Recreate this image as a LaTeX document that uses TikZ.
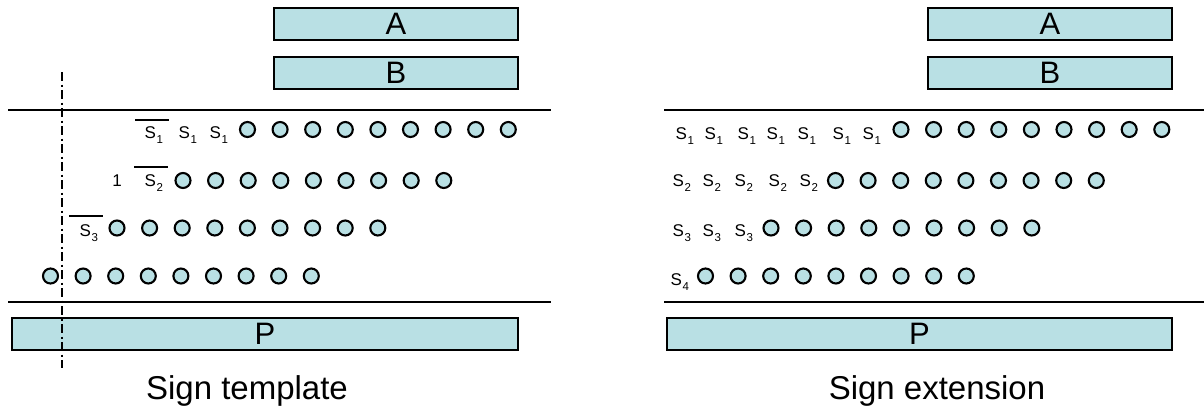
\documentclass[tikz,border=0pt]{standalone}
\usepackage{fontspec}
\setmainfont{Liberation Sans}
\definecolor{cellfill}{RGB}{185,224,228}
\newcommand\Sbit[1]{S\kern0.6pt\raisebox{-5pt}{\fontsize{11.5}{11.5}\selectfont #1}}
\begin{document}
\begin{tikzpicture}[x=1pt,y=-1pt,
  rule/.style={line width=2.2pt},
  barline/.style={line width=2.2pt},
  reg/.style={draw, line width=2.2pt, fill=cellfill, inner sep=0pt, minimum height=32pt,
              font=\fontsize{31}{31}\selectfont},
  bit/.style={circle, draw, line width=2.1pt, fill=cellfill, minimum size=15pt, inner sep=0pt},
  lab/.style={inner sep=0pt, anchor=base west, font=\fontsize{17}{17}\selectfont},
  caption/.style={inner sep=0pt, anchor=base, font=\fontsize{33}{33}\selectfont}]
\useasboundingbox (0,0) rectangle (1204,408);

% ---------------- left panel: sign template ----------------
\node[reg, minimum width=244pt] (LA) at (396,24) {A};
\node[reg, minimum width=244pt] (LB) at (396,73) {B};
\node[reg, minimum width=506pt] (LP) at (265,334) {P};

\coordinate (LT1) at (8,110);  \coordinate (LT2) at (551,110);
\coordinate (LU1) at (8,302);  \coordinate (LU2) at (551,302);
\draw[rule] (LT1) -- (LT2);
\draw[rule] (LU1) -- (LU2);

\coordinate (DTop) at (62,72); \coordinate (DBot) at (62,368);
\draw[line width=2pt, dash pattern=on 9pt off 3.5pt on 2pt off 3.5pt] (DTop) -- (DBot);

\foreach \i in {0,...,8} {
  \node[bit] (L1-\i) at (247.5+32.6*\i,129.5) {};
  \node[bit] (L2-\i) at (183+32.6*\i,180.5) {};
  \node[bit] (L3-\i) at (117+32.6*\i,228) {};
  \node[bit] (L4-\i) at (50.5+32.6*\i,276) {};
}

\node[lab] (l1a) at (144.5,138) {\Sbit{1}};
\node[lab] (l1b) at (178.5,138) {\Sbit{1}};
\node[lab] (l1c) at (209.5,138) {\Sbit{1}};
\node[inner sep=0pt, anchor=base, font=\fontsize{17}{17}\selectfont] (l2one) at (117,186) {1};
\node[lab] (l2a) at (144.5,186) {\Sbit{2}};
\node[lab] (l3a) at (79.5,236) {\Sbit{3}};

\coordinate (b1s) at (135,120); \coordinate (b1e) at (169,120);
\coordinate (b2s) at (134,167); \coordinate (b2e) at (168,167);
\coordinate (b3s) at (69,216);  \coordinate (b3e) at (103,216);
\draw[barline] (b1s) -- (b1e);
\draw[barline] (b2s) -- (b2e);
\draw[barline] (b3s) -- (b3e);

\node[caption] (capL) at (247,399) {Sign template};

% ---------------- right panel: sign extension ----------------
\node[reg, minimum width=244pt] (RA) at (1050,24) {A};
\node[reg, minimum width=244pt] (RB) at (1050,73) {B};
\node[reg, minimum width=505pt] (RP) at (919.5,334) {P};

\coordinate (RT1) at (664,110); \coordinate (RT2) at (1204,110);
\coordinate (RU1) at (664,302); \coordinate (RU2) at (1204,302);
\draw[rule] (RT1) -- (RT2);
\draw[rule] (RU1) -- (RU2);

\foreach \i in {0,...,8} {
  \node[bit] (R1-\i) at (901+32.6*\i,129.5) {};
  \node[bit] (R2-\i) at (835.5+32.6*\i,180.5) {};
  \node[bit] (R3-\i) at (771+32.6*\i,228) {};
  \node[bit] (R4-\i) at (705.5+32.6*\i,276) {};
}

\foreach \x [count=\k] in {675.5,704.5,737.5,766.5,797.5,832.5,862.5}
  \node[lab] (r1-\k) at (\x,139) {\Sbit{1}};
\foreach \x [count=\k] in {672.5,702.5,734.5,768.5,799.5}
  \node[lab] (r2-\k) at (\x,186) {\Sbit{2}};
\foreach \x [count=\k] in {672.5,702.5,734.5}
  \node[lab] (r3-\k) at (\x,236) {\Sbit{3}};
\node[lab] (r4-1) at (670.5,285) {\Sbit{4}};

\node[caption] (capR) at (937,399) {Sign extension};
\end{tikzpicture}
\end{document}
